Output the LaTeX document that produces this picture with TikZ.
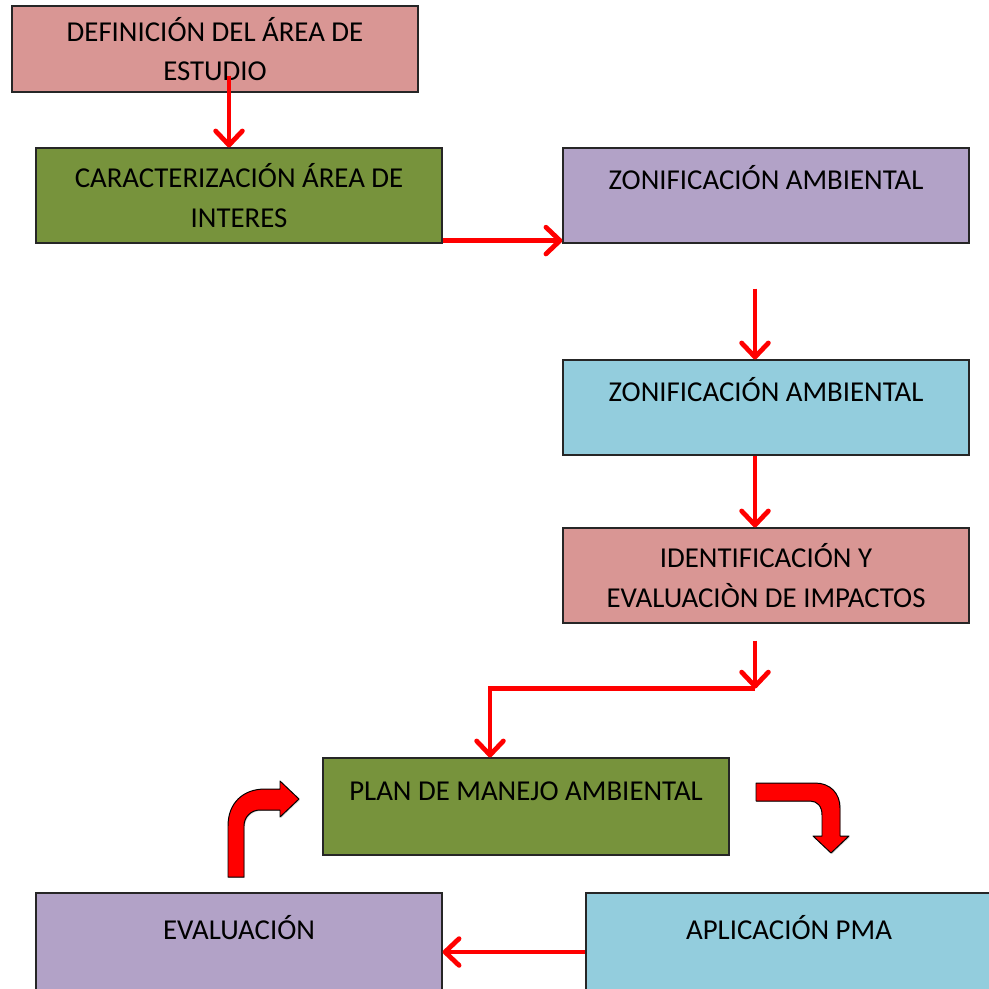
\documentclass[tikz,border=0pt]{standalone}
\usepackage{fontspec}
\setmainfont{Carlito}
\usetikzlibrary{arrows.meta,calc,shadows}
\definecolor{rosa}{HTML}{D99694}
\definecolor{verde}{HTML}{77933C}
\definecolor{lila}{HTML}{B2A2C7}
\definecolor{celeste}{HTML}{93CDDD}
\tikzset{
  box/.style={draw=black!85,line width=0.8pt,minimum width=10.15cm,minimum height=2.375cm,
    align=center,font=\fontsize{20.5}{28}\selectfont,
    drop shadow={shadow xshift=0.7pt,shadow yshift=-0.7pt,opacity=0.35}},
  oneline/.style={text height=14pt,text depth=22pt},
  flow/.style={red,line width=3.4pt,-{Straight Barb[round,length=10pt,width=19pt]}},
  curvearrow/.style={fill=red,draw=black,line width=0.7pt,line join=round,
    drop shadow={shadow xshift=0.7pt,shadow yshift=-0.7pt,opacity=0.35}}
}
\begin{document}
\begin{tikzpicture}[x={(0.025cm,0)},y={(0,-0.025cm)}]
  \useasboundingbox (0,0) rectangle (989,989);
  \clip (0,0) rectangle (989,989);
  % cajas
  \node[box,fill=rosa,minimum height=2.15cm] (b1) at (215,49) {DEFINICIÓN DEL ÁREA DE\\ESTUDIO};
  \node[box,fill=verde] (b2) at (239,195.5) {CARACTERIZACIÓN ÁREA DE\\INTERES};
  \node[box,oneline,fill=lila] (b3) at (766,195.5) {ZONIFICACIÓN AMBIENTAL};
  \node[box,oneline,fill=celeste] (b4) at (766,407.5) {ZONIFICACIÓN AMBIENTAL};
  \node[box,fill=rosa] (b5) at (766,575.5) {IDENTIFICACIÓN Y\\EVALUACIÒN DE IMPACTOS};
  \node[box,oneline,fill=verde,minimum height=2.425cm] (b6) at (526,806.5) {PLAN DE MANEJO AMBIENTAL};
  \node[box,oneline,fill=lila,minimum height=2.6cm] (b7) at (239,945) {EVALUACIÓN};
  \node[box,oneline,fill=celeste,minimum height=2.6cm] (b8) at (789,945) {APLICACIÓN PMA};
  % flechas
  \draw[flow] ($(b1.south)+(14,-17)$) -- ($(b2.north)+(-10,0)$);
  \draw[flow] ($(b2.south east)+(0,-3)$) -- ($(b3.south west)+(0,-3)$);
  \draw[flow] ($(b3.south)+(-11,45)$) -- ($(b4.north)+(-11,0)$);
  \draw[flow] ($(b4.south)+(-11,0)$) -- ($(b5.north)+(-11,0)$);
  \draw[flow] ($(b5.south)+(-11,17)$) -- ++(0,48) coordinate (k1);
  \draw[flow] (k1) -| ($(b6.north)+(-36,0)$);
  \draw[flow] ($(b8.west)+(0,7)$) -- ($(b7.east)+(0,7)$);
  % flechas curvas
  \draw[curvearrow] (228,877) -- (228,826) .. controls (228,803) and (243,789) .. (265,789)
    -- (280,789) -- (280,781) -- (299,799) -- (280,817) -- (280,810) -- (260,810)
    .. controls (251,810) and (244,817) .. (244,826) -- (244,877) -- cycle;
  \draw[curvearrow] (756,783) -- (815,783) .. controls (830,783) and (840,793) .. (840,808)
    -- (840,836) -- (849,836) -- (831,853) -- (813,836) -- (822,836) -- (822,815)
    .. controls (822,806) and (817,801) .. (810,801) -- (756,801) -- cycle;
\end{tikzpicture}
\end{document}
